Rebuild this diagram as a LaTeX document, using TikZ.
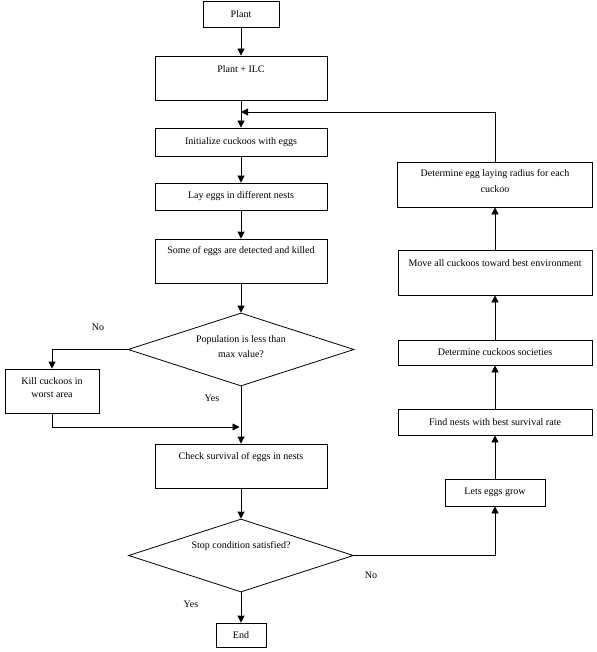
\documentclass[tikz,border=0pt]{standalone}
\usepackage{fontspec}
\setmainfont{Liberation Serif}
\usetikzlibrary{shapes.geometric,arrows.meta}
\begin{document}
\begin{tikzpicture}[x=1pt,y=-1pt,
  box/.style={draw, line width=0.8pt, inner sep=0pt, font=\fontsize{10}{12}\selectfont},
  dia/.style={draw, diamond, line width=0.8pt, inner sep=0pt},
  txt/.style={font=\fontsize{10}{14}\selectfont, align=center, inner sep=0pt},
  conn/.style={line width=0.8pt},
  arr/.style={conn, -{Triangle[length=7pt,width=7pt]}}]
\useasboundingbox (0,0) rectangle (596,652);
% left column
\node[box, minimum width=76pt, minimum height=26pt] (plant) at (241,14) {Plant};
\node[box, minimum width=172pt, minimum height=44pt] (ilc) at (241,78) {};
\node[txt] (ilct) at (241,69) {Plant + ILC};
\node[box, minimum width=172pt, minimum height=28pt] (init) at (241,142) {Initialize cuckoos with eggs};
\node[box, minimum width=172pt, minimum height=27pt] (lay) at (241,196.5) {Lay eggs in different nests};
\node[box, minimum width=172pt, minimum height=44pt] (some) at (241,261) {};
\node[txt] (somet) at (241,251) {Some of eggs are detected and killed};
\node[dia, minimum width=226pt, minimum height=73pt] (pop) at (241,349.5) {};
\node[txt, font=\fontsize{10}{15}\selectfont] (popt) at (241,346.5) {Population is less than\\max value?};
\node[box, minimum width=94pt, minimum height=44pt] (kill) at (52,391) {};
\node[txt, font=\fontsize{10}{13}\selectfont] (killt) at (52,387.5) {Kill cuckoos in\\worst area};
\node[box, minimum width=172pt, minimum height=44pt] (check) at (241,466) {};
\node[txt] (checkt) at (241,457) {Check survival of eggs in nests};
\node[dia, minimum width=225pt, minimum height=73pt] (stop) at (241,555.5) {};
\node[txt] (stopt) at (241,546) {Stop condition satisfied?};
\node[box, minimum width=50pt, minimum height=24pt] (end) at (241,635) {End};
% right column
\node[box, minimum width=100pt, minimum height=27pt] (grow) at (495,492.5) {Lets eggs grow};
\node[box, minimum width=194pt, minimum height=26pt] (find) at (495,422) {Find nests with best survival rate};
\node[box, minimum width=194pt, minimum height=25pt] (soc) at (495,352.5) {Determine cuckoos societies};
\node[box, minimum width=194pt, minimum height=45pt] (move) at (495,272.5) {};
\node[txt] (movet) at (495,263) {Move all cuckoos toward best environment};
\node[box, minimum width=195pt, minimum height=45pt] (rad) at (495,184.5) {};
\node[txt, font=\fontsize{10}{16}\selectfont] (radt) at (495,181) {Determine egg laying radius for each\\cuckoo};
% labels
\node[txt] (no1) at (98,327) {No};
\node[txt] (yes1) at (212,398) {Yes};
\node[txt] (no2) at (371,575) {No};
\node[txt] (yes2) at (191,604) {Yes};
% connectors
\coordinate (loopin) at (241,112);
\coordinate (join) at (241,427);
\draw[arr] (plant) -- (ilc);
\draw[arr] (ilc) -- (init);
\draw[arr] (rad.north) -- (rad.north |- loopin) -- (loopin);
\draw[arr] (init) -- (lay);
\draw[arr] (lay) -- (some);
\draw[arr] (some) -- (pop);
\draw[arr] (pop.west) -| (kill.north);
\draw[arr, shorten >=1.5pt] (kill.south) |- (join);
\draw[arr] (pop.south) -- (check.north);
\draw[arr] (check) -- (stop);
\draw[arr] (stop.south) -- (end.north);
\draw[arr] (stop.east) -| (grow.south);
\draw[arr] (grow) -- (find);
\draw[arr] (find) -- (soc);
\draw[arr] (soc) -- (move);
\draw[arr] (move) -- (rad);
\end{tikzpicture}
\end{document}
